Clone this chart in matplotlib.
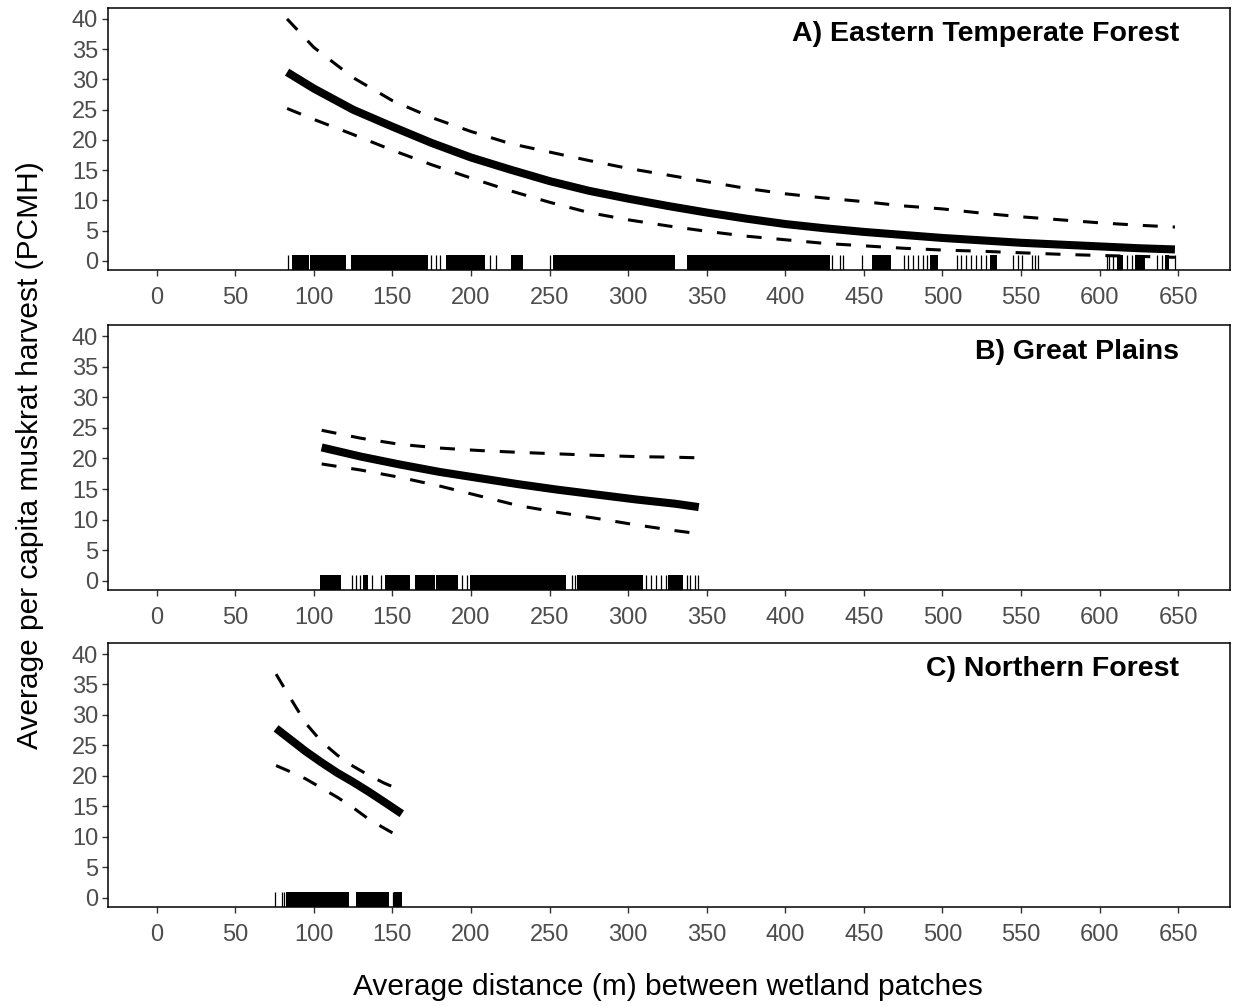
import numpy as np
import matplotlib
matplotlib.use("Agg")
import matplotlib.pyplot as plt

plt.rcParams['font.family'] = ['Liberation Sans', 'DejaVu Sans']

# fitted curves
xA = [83, 100, 125, 150, 175, 200, 225, 250, 275, 300, 325, 350, 375, 400, 425, 450,
      475, 500, 525, 550, 575, 600, 625, 648]
fitA = [31.2, 28.5, 25.0, 22.2, 19.5, 17.1, 15.1, 13.2, 11.6, 10.3, 9.1, 8.0, 7.0, 6.1,
        5.4, 4.8, 4.3, 3.8, 3.4, 3.0, 2.7, 2.4, 2.1, 1.9]
upA = [40.0, 35.3, 30.3, 26.5, 23.7, 21.4, 19.4, 18.0, 16.6, 15.3, 14.2, 13.1, 12.0, 11.1,
       10.4, 9.8, 9.1, 8.6, 7.9, 7.3, 6.8, 6.3, 5.9, 5.6]
loA = [25.2, 23.4, 20.9, 18.3, 15.9, 13.7, 11.6, 9.7, 8.0, 6.8, 5.8, 4.9, 4.1, 3.5, 2.9,
       2.5, 2.1, 1.8, 1.6, 1.35, 1.1, 0.9, 0.75, 0.6]

xB = [105, 130, 155, 180, 205, 230, 255, 280, 305, 330, 345]
fitB = [21.8, 20.3, 19.0, 17.8, 16.8, 15.8, 14.9, 14.1, 13.3, 12.6, 12.05]
upB = [24.6, 23.3, 22.3, 21.7, 21.3, 21.0, 20.75, 20.5, 20.3, 20.2, 20.1]
loB = [19.1, 18.1, 16.9, 15.5, 13.9, 12.3, 11.2, 10.2, 9.15, 8.2, 7.7]

xC = [76, 85, 95, 105, 115, 125, 135, 145, 156]
fitC = [27.8, 26.0, 24.0, 22.2, 20.5, 19.0, 17.4, 15.7, 13.8]
upC = [36.7, 32.8, 28.6, 25.6, 23.4, 21.6, 20.1, 18.8, 17.6]
loC = [21.7, 20.7, 19.5, 18.0, 16.5, 14.8, 12.9, 11.4, 9.8]

# rug: dense blocks (start, end) and single marks
rugA_blocks = [(86.2, 96.8), (97.8, 120.8), (123.9, 172.7), (184.4, 208.8), (225.2, 233.2),
               (252.3, 329.8), (337.6, 428.5), (455, 467.6), (492, 497.4), (530, 534.5),
               (611, 615), (622.6, 629), (641.7, 644.5)]
rugA_lines = [83.6, 174.9, 178.0, 180.2, 212, 215.8, 250.6, 429.5, 434.8, 436.7, 448.6,
              475.6, 478.3, 481.5, 484.7, 487.5, 490, 509, 512, 515.3, 518.4, 521.6, 524.8,
              528, 545, 548.4, 550.5, 556.8, 559, 561, 604.6, 606.3, 608.4, 617.3, 620.5,
              636.4, 639.6, 648]

rugB_blocks = [(103.8, 117.6), (131.4, 134.6), (145.2, 161), (164.2, 177), (178, 191.8),
               (199.7, 260.8), (267.6, 309.7), (325.5, 335)]
rugB_lines = [124, 126.7, 129.2, 137.3, 143, 194.6, 197.2, 264, 266, 311.7, 314.9, 318,
              321.2, 324.4, 337.2, 339.3, 342.5, 344.6]

rugC_blocks = [(82.1, 122.4), (126.7, 147.9), (151.1, 156.4)]
rugC_lines = [75.1, 80, 81, 150.4]

titles = ["A) Eastern Temperate Forest", "B) Great Plains", "C) Northern Forest"]
xticks = np.arange(0, 651, 50)
yticks = np.arange(0, 41, 5)

fig = plt.figure(figsize=(12.35, 10.06), dpi=100)
boxes = [[0.0874, 0.7316, 0.9085, 0.2604],
         [0.0874, 0.4135, 0.9085, 0.2634],
         [0.0874, 0.0984, 0.9085, 0.2624]]

panels = [(xA, fitA, upA, loA, rugA_blocks, rugA_lines),
          (xB, fitB, upB, loB, rugB_blocks, rugB_lines),
          (xC, fitC, upC, loC, rugC_blocks, rugC_lines)]

rug_h = 0.057
for i, (x, fit, up, lo, blocks, lines) in enumerate(panels):
    ax = fig.add_axes(boxes[i])
    ax.plot(x, fit, color='black', lw=5.8, solid_capstyle='butt',
            solid_joinstyle='round', zorder=3)
    for band in (up, lo):
        ax.plot(x, band, color='black', lw=2.2, dashes=(4.9, 4.9), dash_capstyle='butt', zorder=3)
    for b0, b1 in blocks:
        ax.axvspan(b0, b1, ymin=0, ymax=rug_h, color='black', lw=0)
    ax.vlines(lines, 0, rug_h, transform=ax.get_xaxis_transform(), color='black', lw=0.9)

    ax.set_xlim(-31, 683)
    ax.set_ylim(-1.5, 41.8)
    ax.set_xticks(xticks)
    ax.set_yticks(yticks)
    ax.tick_params(axis='both', direction='out', length=4, width=1, color='#333333',
                   labelcolor='#4D4D4D', labelsize=17)
    ax.tick_params(axis='x', pad=8)
    ax.tick_params(axis='y', pad=3)
    for s in ax.spines.values():
        s.set_linewidth(1.1)
        s.set_color('black')
    ax.text(0.955, 0.90, titles[i], transform=ax.transAxes, ha='right', va='center',
            fontsize=20.5, fontweight='bold', color='black')

fig.text(30 / 1235, 1 - 455 / 1006, "Average per capita muskrat harvest (PCMH)",
         rotation=90, ha='center', va='center', fontsize=21.5)
fig.text(667.5 / 1235, 1 - 987 / 1006, "Average distance (m) between wetland patches",
         ha='center', va='center', fontsize=21.5)

plt.savefig('out.png', dpi=100)
